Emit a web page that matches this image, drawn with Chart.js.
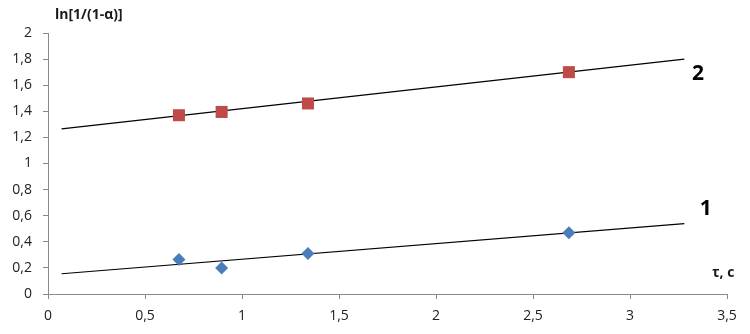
<!DOCTYPE html>
<html>
<head>
<meta charset="utf-8">
<script src="https://cdn.jsdelivr.net/npm/chart.js@4"></script>
<style>
  html, body { margin: 0; padding: 0; background: #fff; }
  #wrap { width: 750px; height: 334px; }
</style>
</head>
<body>
<div id="wrap"><canvas id="myChart" width="750" height="334"></canvas></div>
<script>
// measured points
const tau = [0.675, 0.895, 1.34, 2.685];
const series1 = [0.265, 0.2, 0.31, 0.47];
const series2 = [1.37, 1.395, 1.46, 1.70];

// trend lines (start / end)
const trendX = [0.07, 3.28];
const trend1 = [0.155, 0.54];
const trend2 = [1.265, 1.80];

// curve numbers next to the line ends
const curveNames = ['1', '2'];
const curveNameX = [3.39, 3.35];
const curveNameY = [0.65, 1.685];

const xTicks = [0, 0.5, 1, 1.5, 2, 2.5, 3, 3.5];
const yTicks = [0, 0.2, 0.4, 0.6, 0.8, 1, 1.2, 1.4, 1.6, 1.8, 2];

const toPoints = (xs, ys) => xs.map((x, i) => ({ x: x, y: ys[i] }));
const comma = v => String(Math.round(v * 10) / 10).replace('.', ',');

const textPlugin = {
  id: 'texts',
  afterDraw(chart) {
    const c = chart.ctx;
    const xs = chart.scales.x, ys = chart.scales.y;
    c.save();
    c.fillStyle = '#000';
    c.textBaseline = 'middle';
    c.textAlign = 'center';
    c.font = 'bold 21px "Open Sans", sans-serif';
    curveNames.forEach((n, i) => {
      c.fillText(n, xs.getPixelForValue(curveNameX[i]), ys.getPixelForValue(curveNameY[i]));
    });
    c.fillStyle = '#1a1a1a';
    c.textAlign = 'left';
    c.font = 'bold 14px "Open Sans", sans-serif';
    c.fillText('ln[1/(1-α)]', 55, 15);
    c.fillText('τ, c', 712, 273);
    c.restore();
  }
};

const axisColor = '#8a8a8a';

const config = {
  type: 'scatter',
  data: {
    datasets: [
      {
        label: '1',
        data: toPoints(tau, series1),
        pointStyle: 'rectRot',
        pointRadius: 6.5,
        pointHoverRadius: 6.5,
        backgroundColor: '#4a7ebb',
        borderColor: '#4a7ebb',
        borderWidth: 0
      },
      {
        label: '2',
        data: toPoints(tau, series2),
        pointStyle: 'rect',
        pointRadius: 8.5,
        pointHoverRadius: 8.5,
        backgroundColor: '#be4b48',
        borderColor: '#be4b48',
        borderWidth: 0
      },
      {
        type: 'line',
        label: 'trend 1',
        data: toPoints(trendX, trend1),
        borderColor: '#000',
        borderWidth: 1.2,
        pointRadius: 0,
        fill: false
      },
      {
        type: 'line',
        label: 'trend 2',
        data: toPoints(trendX, trend2),
        borderColor: '#000',
        borderWidth: 1.2,
        pointRadius: 0,
        fill: false
      }
    ]
  },
  options: {
    responsive: false,
    animation: false,
    layout: { padding: { left: 0, right: 23, top: 33, bottom: 0 } },
    plugins: {
      legend: { display: false },
      tooltip: { enabled: false }
    },
    scales: {
      x: {
        type: 'linear',
        min: 0,
        max: 3.5,
        afterBuildTicks: s => { s.ticks = xTicks.map(v => ({ value: v })); },
        afterFit: s => { s.height = 40; },
        grid: { drawOnChartArea: false, drawTicks: true, tickLength: 5, color: axisColor },
        border: { color: axisColor },
        ticks: {
          callback: v => comma(v),
          color: '#222',
          padding: 9,
          maxRotation: 0,
          font: { family: '"Open Sans", sans-serif', size: 14 }
        }
      },
      y: {
        type: 'linear',
        min: 0,
        max: 2,
        afterBuildTicks: s => { s.ticks = yTicks.map(v => ({ value: v })); },
        afterFit: s => { s.width = 48; },
        grid: { drawOnChartArea: false, drawTicks: true, tickLength: 5, color: axisColor },
        border: { color: axisColor },
        ticks: {
          callback: v => comma(v),
          color: '#222',
          padding: 11,
          font: { family: '"Open Sans", sans-serif', size: 14 }
        }
      }
    }
  },
  plugins: [textPlugin]
};

const ctx = document.getElementById('myChart').getContext('2d');
new Chart(ctx, config);
</script>
</body>
</html>
